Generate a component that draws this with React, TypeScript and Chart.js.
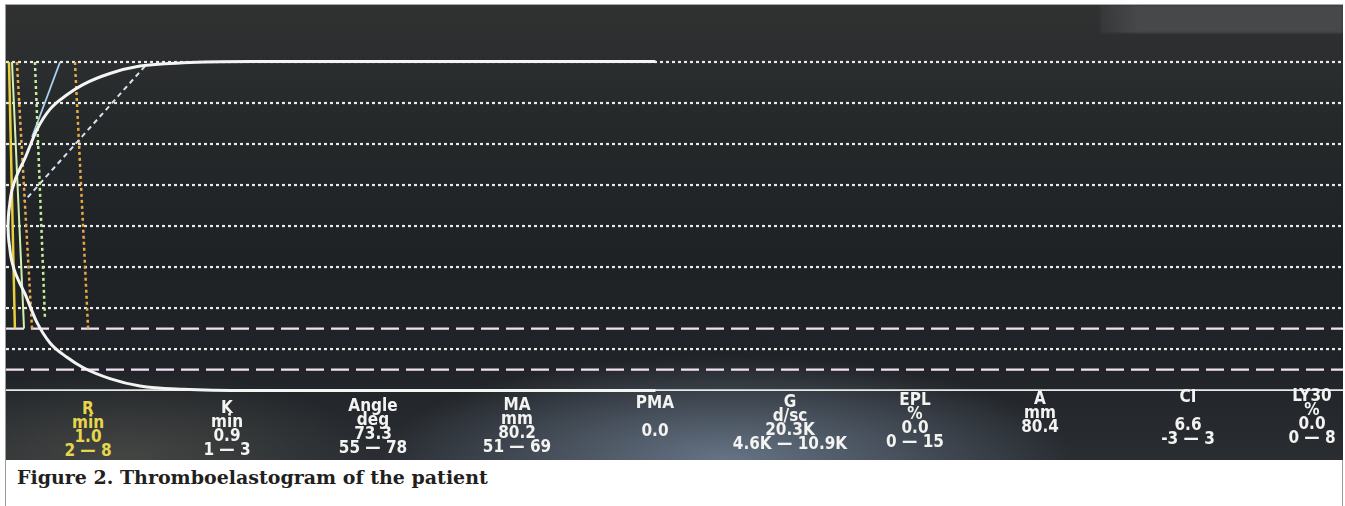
import React, { useEffect, useRef } from 'react';
import { Chart, registerables } from 'chart.js';

Chart.register(...registerables);

// ---- data (time in minutes, amplitude in mm, +/- half amplitude) ----
const TRACE_TIME = [0, 0.02, 0.07, 0.13, 0.27, 0.45, 0.76, 1.3, 1.89, 2.65, 3.37, 4.58, 5.93, 7.87, 10.9, 17.6, 29.1];
const TRACE_AMP = [0, 2.5, 5, 7.5, 10.5, 13, 16.5, 23.5, 28.5, 32, 34.5, 37.2, 39, 39.8, 40.1, 40.1, 40.1];

const GRID_DOTTED = [40, 30, 20, 10, 0, -10, -20, -30];
const GRID_DASHED = [-25, -35];
const BASELINE = [-40];

const X_MIN = -0.09;
const X_MAX = 60;
const Y_MIN = -41.2;
const Y_MAX = 53.9;

// marker lines: [t top, value top, t bottom, value bottom]
const MARK_YELLOW = [0.045, 40, 0.31, -25];
const MARK_PALE = [0.18, 40, 0.72, -25];
const MARK_R = [0.4, 40, 1.08, -25];
const MARK_GREEN = [1.21, 40, 1.66, -22.4];
const MARK_BLUE = [2.34, 40, 1.08, 21.7];
const MARK_ANGLE = [6.16, 39, 0.72, 6];
const MARK_K = [3.01, 40, 3.6, -25];

// parameter table
const PARAM_NAMES = ['R', 'K', 'Angle', 'MA', 'PMA', 'G', 'EPL', 'A', 'CI', 'LY30'];
const PARAM_UNITS = ['min', 'min', 'deg', 'mm', '', 'd/sc', '%', 'mm', '', '%'];
const PARAM_VALUES = ['1.0', '0.9', '73.3', '80.2', '0.0', '20.3K', '0.0', '80.4', '6.6', '0.0'];
const PARAM_RANGES = ['2 — 8', '1 — 3', '55 — 78', '51 — 69', '', '4.6K — 10.9K', '0 — 15', '', '-3 — 3', '0 — 8'];
const PARAM_CENTERS = [88, 227, 373, 517, 655, 790, 915, 1040, 1188, 1312];

const CAPTION = 'Figure 2. Thromboelastogram of the patient';

function seg(m: number[]) {
  return [
    { x: m[0], y: m[1] },
    { x: m[2], y: m[3] },
  ];
}

function hline(v: number) {
  return [
    { x: X_MIN, y: v },
    { x: X_MAX, y: v },
  ];
}

export default function App() {
  const ref = useRef<HTMLCanvasElement | null>(null);

  useEffect(() => {
    if (!ref.current) return;
    const upper = TRACE_TIME.map((t, i) => ({ x: t, y: TRACE_AMP[i] }));
    const lower = TRACE_TIME.map((t, i) => ({ x: t, y: -TRACE_AMP[i] }));

    const datasets: any[] = [];
    datasets.push({
      data: upper,
      borderColor: '#f4f4f2',
      borderWidth: 3,
      cubicInterpolationMode: 'monotone',
      order: 0,
    });
    datasets.push({
      data: lower,
      borderColor: '#f4f4f2',
      borderWidth: 3,
      cubicInterpolationMode: 'monotone',
      order: 0,
    });
    const marker = (m: number[], color: string, dash: number[], w: number) => ({
      data: seg(m),
      borderColor: color,
      borderWidth: w,
      borderDash: dash,
      order: 1,
    });
    datasets.push(marker(MARK_YELLOW, '#e6cf3c', [], 2.5));
    datasets.push(marker(MARK_PALE, '#d6efb0', [], 2));
    datasets.push(marker(MARK_R, '#e9a94a', [3, 3], 2.5));
    datasets.push(marker(MARK_GREEN, '#c6ec9a', [3, 3], 2.5));
    datasets.push(marker(MARK_BLUE, '#a9d3f2', [], 1.8));
    datasets.push(marker(MARK_ANGLE, '#d2e2f2', [5, 4], 2));
    datasets.push(marker(MARK_K, '#e9a94a', [3, 3], 2.5));

    GRID_DOTTED.forEach((v) =>
      datasets.push({
        data: hline(v),
        borderColor: 'rgba(245,245,240,0.95)',
        borderWidth: 2.2,
        borderDash: [3, 3],
        order: 2,
      })
    );
    GRID_DASHED.forEach((v) =>
      datasets.push({
        data: hline(v),
        borderColor: '#f1e2f2',
        borderWidth: 2.2,
        borderDash: [18, 7],
        order: 2,
      })
    );
    BASELINE.forEach((v) =>
      datasets.push({
        data: hline(v),
        borderColor: '#e8e8e6',
        borderWidth: 1.8,
        order: 2,
      })
    );

    const chart = new Chart(ref.current, {
      type: 'line',
      data: { datasets },
      options: {
        animation: false,
        responsive: false,
        maintainAspectRatio: false,
        layout: { padding: 0 },
        elements: { point: { radius: 0 } },
        plugins: { legend: { display: false }, tooltip: { enabled: false } },
        scales: {
          x: { type: 'linear', min: X_MIN, max: X_MAX, display: false },
          y: { type: 'linear', min: Y_MIN, max: Y_MAX, display: false },
        },
      },
    });
    return () => chart.destroy();
  }, []);

  const textFont = '"DejaVu Sans Condensed", "Liberation Sans Narrow", "DejaVu Sans", sans-serif';
  const LH = 14;

  return (
    <div style={{ position: 'absolute', left: 0, top: 0, width: 1345, height: 506, background: '#ffffff', overflow: 'hidden' }}>
      <div
        style={{
          position: 'absolute',
          left: 5,
          top: 4,
          width: 1336,
          height: 520,
          borderLeft: '1px solid #9a9a9a',
          borderRight: '1px solid #9a9a9a',
          borderTop: '1px solid #a8a8a8',
        }}
      />
      <div
        style={{
          position: 'absolute',
          left: 6,
          top: 5,
          width: 1337,
          height: 455,
          overflow: 'hidden',
          background:
            'radial-gradient(ellipse 460px 140px at 720px 455px, rgba(112,128,148,0.85), rgba(112,128,148,0) 75%),' +
            'radial-gradient(ellipse 330px 110px at 120px 450px, rgba(85,85,78,0.6), rgba(85,85,78,0) 75%),' +
            'linear-gradient(180deg, #303232 0%, #26292a 25%, #1f2225 55%, #202327 80%, #2a2e33 100%)',
        }}
      >
        <div
          style={{
            position: 'absolute',
            left: 1094,
            top: 0,
            width: 243,
            height: 28,
            background: 'linear-gradient(90deg, rgba(70,72,74,0.3), #46484a 15%)',
            filter: 'blur(1px)',
          }}
        />
        <canvas ref={ref} width={1337} height={390} style={{ position: 'absolute', left: 0, top: 0, width: 1337, height: 390 }} />
        {PARAM_NAMES.map((name, i) => {
          const top = 408 - i * 1.5 - LH / 2 - 5;
          const color = i === 0 ? '#e7d64c' : '#f3f3f1';
          const lines = [name, PARAM_UNITS[i], PARAM_VALUES[i], PARAM_RANGES[i]];
          return (
            <div
              key={name}
              style={{
                position: 'absolute',
                left: PARAM_CENTERS[i] - 6 - 80,
                top,
                width: 160,
                textAlign: 'center',
                color,
                fontFamily: textFont,
                fontStretch: 'condensed',
                fontWeight: 'bold',
                fontSize: 17,
                lineHeight: LH + 'px',
                whiteSpace: 'pre',
              }}
            >
              {lines.map((l, j) => (
                <div key={j} style={{ height: LH }}>
                  {l}
                </div>
              ))}
            </div>
          );
        })}
      </div>
      <div
        style={{
          position: 'absolute',
          left: 17,
          top: 467,
          fontFamily: '"DejaVu Serif", "Liberation Serif", serif',
          fontWeight: 'bold',
          fontSize: 19,
          lineHeight: '20px',
          color: '#231f20',
          whiteSpace: 'pre',
        }}
      >
        {CAPTION}
      </div>
    </div>
  );
}
